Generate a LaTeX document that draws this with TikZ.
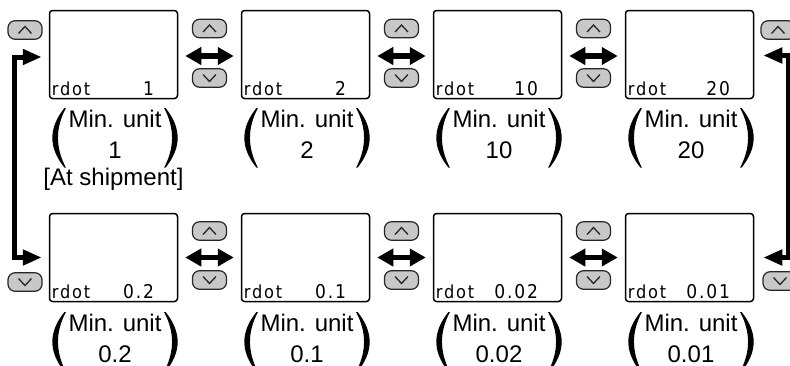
\documentclass[tikz,border=0pt]{standalone}
\usepackage{fontspec}
\setmainfont{Liberation Sans}
\newfontfamily\lcdfont{DejaVu Sans Condensed}[LetterSpace=10]
\usetikzlibrary{arrows.meta}
\definecolor{btngray}{RGB}{200,200,200}
\tikzset{
  screen/.style={draw, line width=1.5pt, rounded corners=3pt, minimum width=128pt, minimum height=88pt, inner sep=0pt},
  lcd/.style={inner sep=0pt, font=\lcdfont\fontsize{18}{18}\selectfont},
  lcdval/.style={inner sep=0pt, font=\lcdfont\fontsize{19}{19}\selectfont},
  btn/.style={draw=black!85, fill=btngray, line width=1.2pt, rounded corners=7pt, minimum width=34pt, minimum height=18.5pt, inner sep=0pt},
  upbtn/.style={btn, path picture={\draw[sharp corners, line width=1.3pt, black!85] ([xshift=-6.5pt,yshift=-3.5pt]path picture bounding box.center) -- ++(6.5pt,7pt) -- ++(6.5pt,-7pt);}},
  downbtn/.style={btn, path picture={\draw[sharp corners, line width=1.3pt, black!85] ([xshift=-6.5pt,yshift=3.5pt]path picture bounding box.center) -- ++(6.5pt,-7pt) -- ++(6.5pt,7pt);}},
  dblarrow/.style={line width=5.5pt, {Triangle[length=16pt,width=17pt]}-{Triangle[length=16pt,width=17pt]}, shorten <=7pt, shorten >=7pt},
  loopline/.style={line width=5pt, line join=miter, {Triangle[length=19pt,width=15pt]}-{Triangle[length=19pt,width=15pt]}},
  unitlbl/.style={inner sep=0pt, font=\fontsize{24}{31}\selectfont}
}
% big round brackets around a label node
\newcommand\drawparens[1]{%
  \fill ([xshift=-4pt,yshift=-3pt]#1.north west) .. controls +(-16pt,-20pt) and +(-16pt,20pt) .. ([xshift=-4pt]#1.south west)
     -- ++(1.5pt,0) .. controls +(-10.5pt,20pt) and +(-10.5pt,-20pt) .. ([xshift=-2.5pt,yshift=-3pt]#1.north west) -- cycle;
  \fill ([xshift=4pt,yshift=-3pt]#1.north east) .. controls +(16pt,-20pt) and +(16pt,20pt) .. ([xshift=4pt]#1.south east)
     -- ++(-1.5pt,0) .. controls +(10.5pt,20pt) and +(10.5pt,-20pt) .. ([xshift=2.5pt,yshift=-3pt]#1.north east) -- cycle;}
\begin{document}
\begin{tikzpicture}[x=1pt, y=-1pt]
    \useasboundingbox (0,0) rectangle (790,365);
    % displays
    \foreach \i/\x/\y/\v in {1/113.5/54.5/1, 2/305.5/54.5/2, 3/497.5/54.5/10, 4/689.5/54.5/20,
                             5/113.5/257.5/0.2, 6/305.5/257.5/0.1, 7/497.5/257.5/0.02, 8/689.5/257.5/0.01} {
        \node[screen] (s\i) at (\x,\y) {};
        \node[lcd, anchor=base west] (r\i) at ([xshift=3pt,yshift=4pt]s\i.south west) {rdot};
        \node[lcdval, anchor=base east] (v\i) at ([xshift=-24pt,yshift=4pt]s\i.south east) {\v};
    }
    % labels
    \foreach \i/\x/\y/\v in {1/115/136.3/1, 2/307/136.3/2, 3/499/136.3/10, 4/691/136.3/20,
                             5/115/340.3/0.2, 6/307/340.3/0.1, 7/499/340.3/0.02, 8/691/340.3/0.01} {
        \node[unitlbl] (l\i) at (\x,\y) {\begin{tabular}{@{}c@{}}Min. unit\\\v\end{tabular}};
        \drawparens{l\i}
    }
    \node[unitlbl, anchor=base] (ship) at (113.5,185) {[At shipment]};
    % keys
    \foreach \i/\x in {1/209.5, 2/401.5, 3/593.5} {
        \node[upbtn] (ua\i) at (\x,28.5) {};
        \node[downbtn] (da\i) at (\x,78) {};
        \node[upbtn] (ub\i) at (\x,231) {};
        \node[downbtn] (db\i) at (\x,280) {};
    }
    \node[upbtn] (ul) at (25,30) {};
    \node[downbtn] (dl) at (25,282) {};
    \node[upbtn] (ur) at (778,30) {};
    \node[downbtn] (dr) at (780,281) {};
    % arrows
    \foreach \a/\b in {1/2, 2/3, 3/4}
        \draw[dblarrow] ([yshift=-1.5pt]s\a.east) -- ([yshift=-1.5pt]s\b.west);
    \foreach \a/\b in {5/6, 6/7, 7/8}
        \draw[dblarrow] (s\a.east) -- (s\b.west);
    \draw[loopline] ([xshift=-7pt,yshift=-2.5pt]s1.west) -- ++(-27.5,0) |- ([xshift=-7pt]s5.west);
    \draw[loopline] ([xshift=9pt,yshift=-1pt]s4.east) -- ++(25,0) |- ([xshift=9pt]s8.east);
\end{tikzpicture}
\end{document}
